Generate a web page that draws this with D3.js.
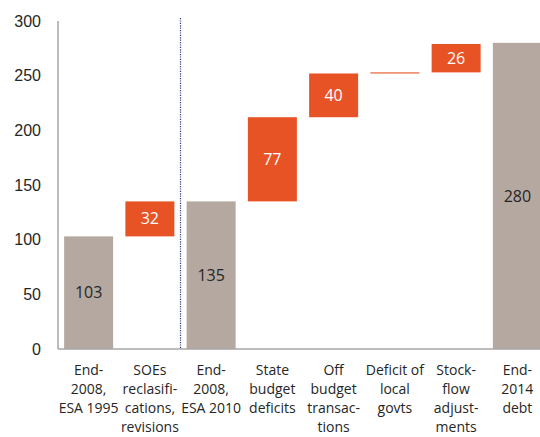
<!DOCTYPE html>
<meta charset="utf-8">
<style>
body { margin: 0; background: #fff; }
svg { font-family: "Open Sans", sans-serif; }
.axis path { stroke: #a6a6a6; stroke-width: 1.5; }
.axis .tick line { display: none; }
.axis .tick text { font-size: 16px; fill: #262626; }
</style>
<body>
<svg width="540" height="437"></svg>
<script src="https://d3js.org/d3.v7.min.js"></script>
<script>
var categories = [
  ["End-", "2008,", "ESA 1995"],
  ["SOEs", "reclasifi-", "cations,", "revisions"],
  ["End-", "2008,", "ESA 2010"],
  ["State", "budget", "deficits"],
  ["Off", "budget", "transac-", "tions"],
  ["Deficit of", "local", "govts"],
  ["Stock-", "flow", "adjust-", "ments"],
  ["End-", "2014", "debt"]
];
var values = [103, 32, 135, 77, 40, 1, 26, 280];
var isTotal = [true, false, true, false, false, false, false, true];
var showLabel = [true, true, true, true, true, false, true, true];
var yTicks = [0, 50, 100, 150, 200, 250, 300];

// running base for the waterfall
var rows = [], run = 0;
values.forEach(function(v, i) {
  var lo, hi;
  if (isTotal[i]) { lo = 0; hi = v; run = v; }
  else { lo = run; hi = run + v; run = hi; }
  rows.push({i: i, v: v, lo: lo, hi: hi, total: isTotal[i], label: showLabel[i]});
});

var svg = d3.select("svg");
var x = d3.scaleBand().domain(d3.range(categories.length))
    .range([58, 548]).paddingInner(0.2).paddingOuter(0.1);
var y = d3.scaleLinear().domain([0, 300]).range([349, 21]);

svg.selectAll(".bar")
  .data(rows)
  .enter().append("rect")
    .attr("x", function(d) { return x(d.i); })
    .attr("y", function(d) { return y(d.hi); })
    .attr("width", x.bandwidth())
    .attr("height", function(d) { return Math.max(1, y(d.lo) - y(d.hi)); })
    .attr("fill", function(d) { return d.total ? "#b5a8a0" : "#e85325"; });

svg.selectAll(".lbl")
  .data(rows.filter(function(d) { return d.label; }))
  .enter().append("text")
    .attr("x", function(d) { return x(d.i) + x.bandwidth() / 2; })
    .attr("y", function(d) { return (y(d.lo) + y(d.hi)) / 2; })
    .attr("dy", "0.35em")
    .attr("text-anchor", "middle")
    .style("font-size", "16px")
    .attr("fill", function(d) { return d.total ? "#262626" : "#fff"; })
    .text(function(d) { return d.v; });

// y axis
var ya = svg.append("g").attr("class", "axis")
    .attr("transform", "translate(58,0)")
    .call(d3.axisLeft(y).tickValues(yTicks).tickSize(0).tickPadding(17));
ya.select(".domain").attr("d", "M0," + y(300) + "V" + y(0));

// x axis line
svg.append("line")
    .attr("x1", 58).attr("x2", 540)
    .attr("y1", y(0)).attr("y2", y(0))
    .attr("stroke", "#a6a6a6").attr("stroke-width", 1.5);

// dotted separator between ESA 1995 and ESA 2010
var sepX = (x(1) + x.bandwidth() + x(2)) / 2;
svg.append("line")
    .attr("x1", sepX).attr("x2", sepX)
    .attr("y1", 18).attr("y2", y(0))
    .attr("stroke", "#2b3a80").attr("stroke-width", 1.2)
    .attr("stroke-dasharray", "1.2,1.2");

// category labels
var cat = svg.selectAll(".cat")
  .data(categories)
  .enter().append("text")
    .attr("text-anchor", "middle")
    .style("font-size", "14px")
    .attr("fill", "#262626");
cat.each(function(lines, i) {
  d3.select(this).selectAll("tspan")
    .data(lines)
    .enter().append("tspan")
      .attr("x", x(i) + x.bandwidth() / 2)
      .attr("y", function(d, j) { return 374.5 + j * 19.3; })
      .text(function(d) { return d; });
});
</script>
</body>
